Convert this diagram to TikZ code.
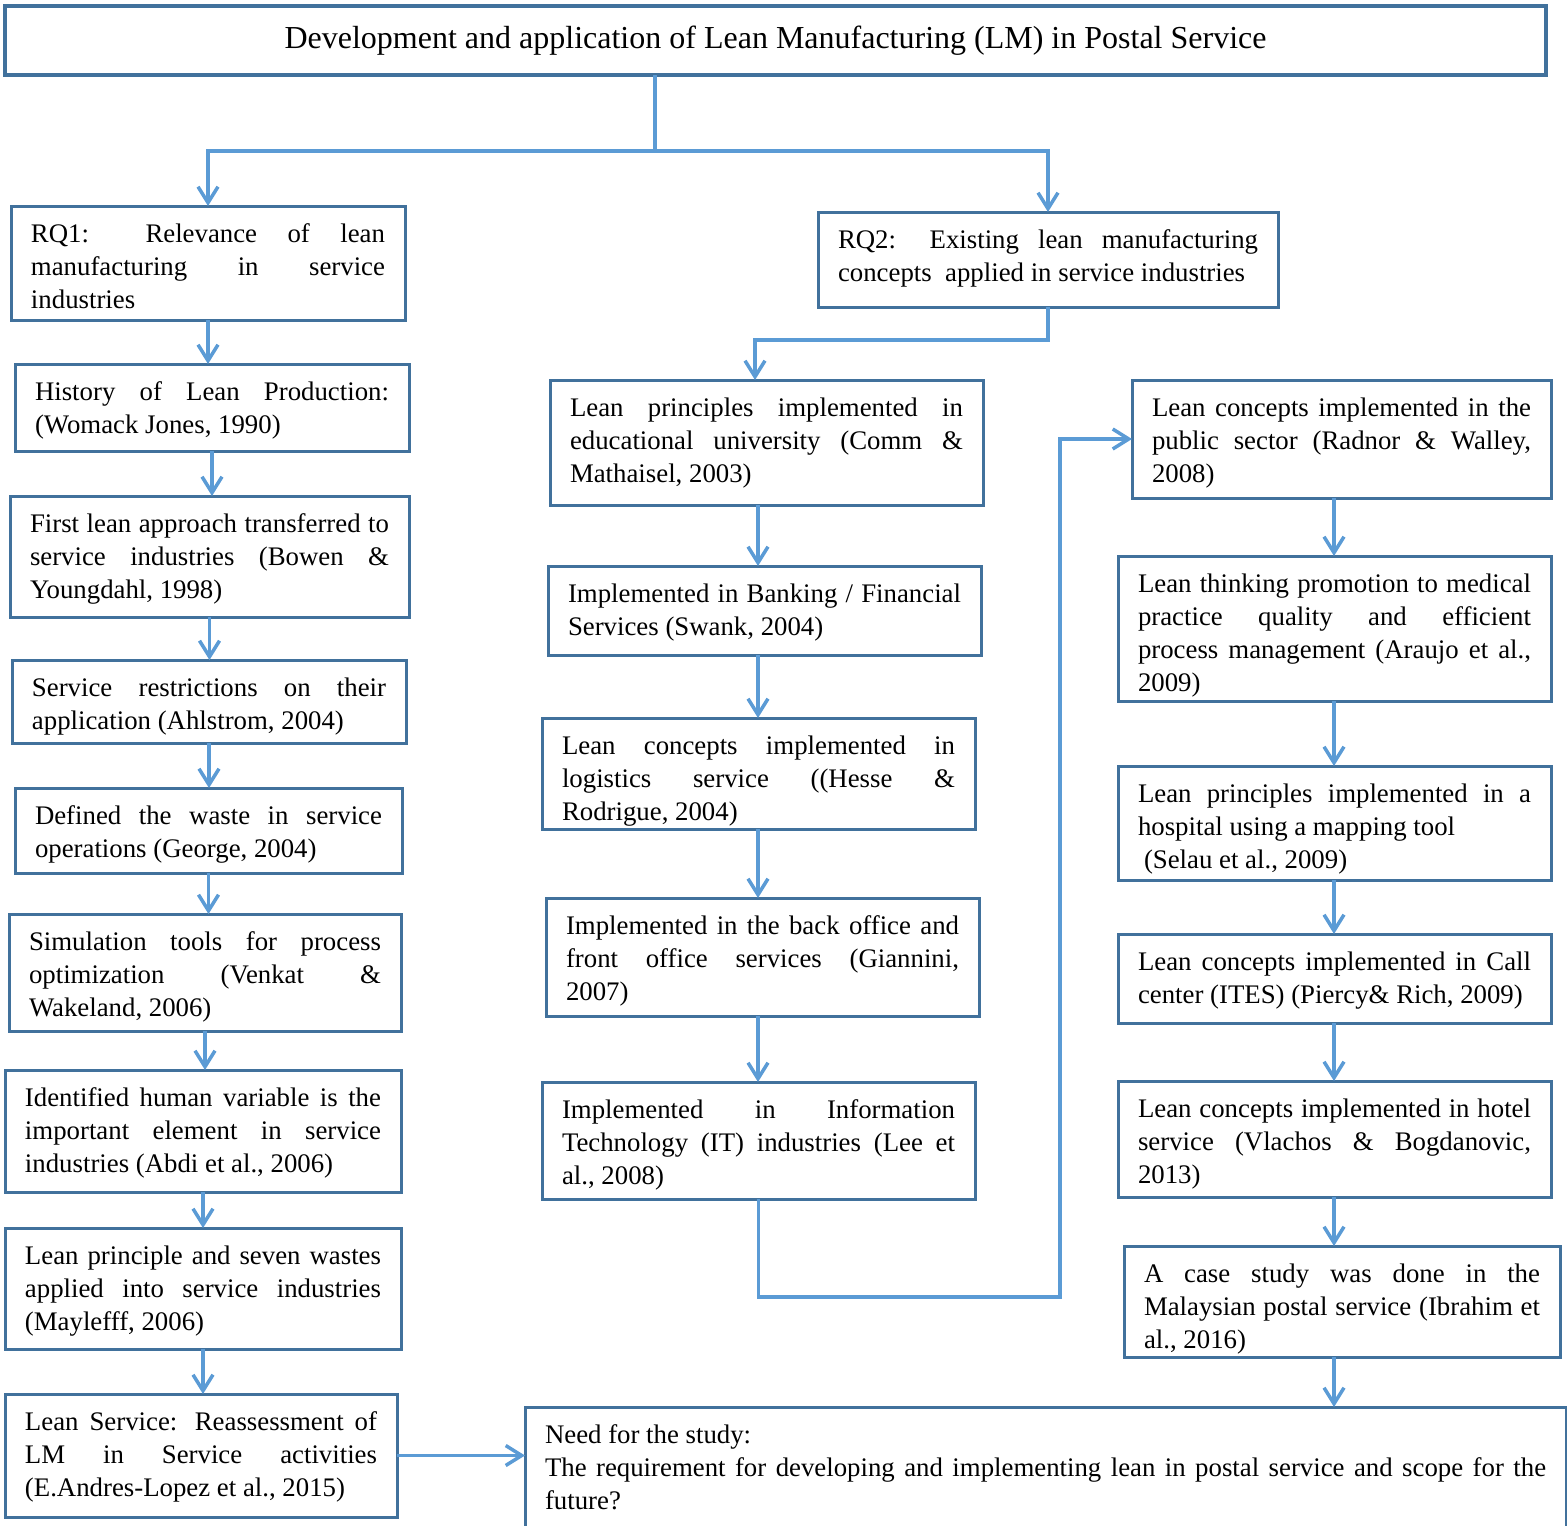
\documentclass[tikz,border=0pt]{standalone}
\usepackage{fontspec}
\setmainfont{Liberation Serif}
\definecolor{lmdark}{RGB}{65,113,156}
\definecolor{lmblue}{RGB}{91,155,213}
\usetikzlibrary{arrows.meta}
\hbadness=10000

\begin{document}
\begin{tikzpicture}[
  x=0.5pt, y=-0.5pt,
  every node/.style={font=\fontsize{13.4pt}{16.5pt}\selectfont},
  lmbox/.style 2 args={draw=lmdark, line width=1.5pt, anchor=north west, align=justify,
                       inner xsep=10pt, inner ysep=0pt, outer sep=0pt,
                       text height=18pt, text width=#1pt, text depth=#2pt},
  titlebox/.style={draw=lmdark, line width=1.75pt, anchor=north west, inner sep=0pt, outer sep=0pt,
                   minimum width=770.5pt, minimum height=34.5pt, font=\fontsize{16pt}{19pt}\selectfont},
  flow/.style={draw=lmblue, line width=1.75pt, -{Straight Barb[length=8pt,width=10pt]}},
]
  \useasboundingbox (0,0) rectangle (1567,1525);

  % Title
  \node[titlebox] (title) at (5,6) {Development and application of Lean Manufacturing (LM) in Postal Service};

  % Left column: RQ1
  \node[lmbox={177}{39}] (rq1) at (11,206) {RQ1: Relevance of lean\linebreak manufacturing in service\linebreak industries};
  \node[lmbox={177}{25.5}] (l2) at (15,364) {History of Lean Production:\linebreak (Womack Jones, 1990)};
  \node[lmbox={179.5}{42.5}] (l3) at (10,496) {First lean approach transferred to\linebreak service industries (Bowen \&\linebreak Youngdahl, 1998)};
  \node[lmbox={177}{23.5}] (l4) at (12,660) {Service restrictions on their\linebreak application (Ahlstrom, 2004)};
  \node[lmbox={173.5}{24.5}] (l5) at (15,788) {Defined the waste in service\linebreak operations (George, 2004)};
  \node[lmbox={176}{40.5}] (l6) at (9,914) {Simulation tools for process\linebreak optimization (Venkat \&\linebreak Wakeland, 2006)};
  \node[lmbox={178}{43}] (l7) at (5,1070) {Identified human variable is the\linebreak important element in service\linebreak industries (Abdi et al., 2006)};
  \node[lmbox={178}{42.5}] (l8) at (5,1228) {Lean principle and seven wastes\linebreak applied into service industries\linebreak (Maylefff, 2006)};
  \node[lmbox={176}{43.5}] (l9) at (5,1394) {Lean Service: Reassessment of\linebreak LM in Service activities\linebreak (E.Andres-Lopez et al., 2015)};

  % Middle column: RQ2
  \node[lmbox={210}{29.5}] (rq2) at (818,212) {RQ2: Existing lean manufacturing\linebreak concepts\ \ applied in service industries};
  \node[lmbox={196.5}{44.5}] (m1) at (550,380) {Lean principles implemented in\linebreak educational university (Comm \&\linebreak Mathaisel, 2003)};
  \node[lmbox={196.5}{26.5}] (m2) at (548,566) {Implemented in Banking / Financial\linebreak Services (Swank, 2004)};
  \node[lmbox={196.5}{37.5}] (m3) at (542,718) {Lean concepts implemented in\linebreak logistics service ((Hesse \&\linebreak Rodrigue, 2004)};
  \node[lmbox={196.5}{41}] (m4) at (546,898) {Implemented in the back office and\linebreak front office services (Giannini,\linebreak 2007)};
  \node[lmbox={196.5}{40.5}] (m5) at (542,1082) {Implemented in Information\linebreak Technology (IT) industries (Lee et\linebreak al., 2008)};

  % Right column
  \node[lmbox={189.5}{41}] (r1) at (1132,380) {Lean concepts implemented in the\linebreak public sector (Radnor \& Walley,\linebreak 2008)};
  \node[lmbox={196.5}{54.5}] (r2) at (1118,556) {Lean thinking promotion to medical\linebreak practice quality and efficient\linebreak process management (Araujo et al.,\linebreak 2009)};
  \node[lmbox={196.5}{39}] (r3) at (1118,766) {Lean principles implemented in a\linebreak hospital using a mapping tool\\ \hspace*{3pt}(Selau et al., 2009)};
  \node[lmbox={196.5}{26.5}] (r4) at (1118,934) {Lean concepts implemented in Call\linebreak center (ITES) (Piercy\& Rich, 2009)};
  \node[lmbox={196.5}{40}] (r5) at (1118,1081) {Lean concepts implemented in hotel\linebreak service (Vlachos \& Bogdanovic,\linebreak 2013)};
  \node[lmbox={198}{37.5}] (r6) at (1124,1246) {A case study was done in the\linebreak Malaysian postal service (Ibrahim et\linebreak al., 2016)};

  % Need for the study
  \node[lmbox={500.5}{51}] (need) at (525,1407) {Need for the study:\\ The requirement for developing and implementing lean in postal service and scope for the\linebreak future?};

  % Connectors
  \coordinate (split) at (655,151);
  \coordinate (rqbend) at (755,340);
  \coordinate (turn) at (1060,1297);
  \coordinate (mcol) at (758,0);
  \coordinate (rcol) at (1334,0);

  \draw[flow] (split |- title.south) -- (split) -| (rq1.north);
  \draw[flow] (split) -| (rq2.north);

  \draw[flow] (rq1.south) -- (rq1.south |- l2.north);
  \draw[flow] (l2.south) -- (l2.south |- l3.north);
  \draw[flow] (l3.south) -- (l3.south |- l4.north);
  \draw[flow] (l4.south) -- (l4.south |- l5.north);
  \draw[flow] (l5.south) -- (l5.south |- l6.north);
  \draw[flow] (l6.south) -- (l6.south |- l7.north);
  \draw[flow] (l7.south) -- (l7.south |- l8.north);
  \draw[flow] (l8.south) -- (l8.south |- l9.north);
  \draw[flow] (l9.east) -- (l9.east -| need.west);

  \draw[flow] (rq2.south) |- (rqbend) -- (rqbend |- m1.north);
  \draw[flow] (mcol |- m1.south) -- (mcol |- m2.north);
  \draw[flow] (mcol |- m2.south) -- (mcol |- m3.north);
  \draw[flow] (mcol |- m3.south) -- (mcol |- m4.north);
  \draw[flow] (mcol |- m4.south) -- (mcol |- m5.north);
  \draw[flow] (m5.south) |- (turn) |- (r1.west);

  \draw[flow] (rcol |- r1.south) -- (rcol |- r2.north);
  \draw[flow] (rcol |- r2.south) -- (rcol |- r3.north);
  \draw[flow] (rcol |- r3.south) -- (rcol |- r4.north);
  \draw[flow] (rcol |- r4.south) -- (rcol |- r5.north);
  \draw[flow] (rcol |- r5.south) -- (rcol |- r6.north);
  \draw[flow] (rcol |- r6.south) -- (rcol |- need.north);
\end{tikzpicture}
\end{document}
